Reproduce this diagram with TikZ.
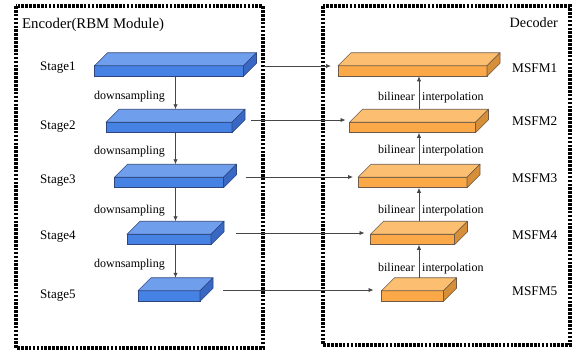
\documentclass[tikz,border=0pt]{standalone}
\usepackage{fontspec}
\setmainfont{Liberation Serif}
\usetikzlibrary{arrows.meta}
\definecolor{bfront}{RGB}{70,130,228}
\definecolor{btop}{RGB}{110,158,236}
\definecolor{bside}{RGB}{56,104,196}
\definecolor{bline}{RGB}{45,70,125}
\definecolor{ofront}{RGB}{250,168,72}
\definecolor{otop}{RGB}{252,190,112}
\definecolor{oside}{RGB}{214,142,56}
\definecolor{oline}{RGB}{110,90,70}
\definecolor{arrgray}{RGB}{70,70,70}
\newcommand\slabfaces[4]{%
  \draw[fill=#2, draw=#4, line width=0.6pt, line join=round] (#1.north west) -- ++(13,-13) -- ([shift={(13,-13)}]#1.north east) -- (#1.north east) -- cycle;
  \draw[fill=#3, draw=#4, line width=0.6pt, line join=round] (#1.north east) -- ++(13,-13) -- ([shift={(13,-13)}]#1.south east) -- (#1.south east) -- cycle;
}
\tikzset{
  frame/.style={line width=3.2pt, dash pattern=on 2.6pt off 1.3pt},
  slab/.style={draw, line width=0.6pt, minimum height=10.5pt, inner sep=0pt, outer sep=0pt},
  enc/.style={slab, fill=bfront, draw=bline},
  dec/.style={slab, fill=ofront, draw=oline},
  arr/.style={draw=arrgray, line width=0.9pt, -{Latex[length=5pt,width=4.5pt]}},
  stagelbl/.style={font=\fontsize{13}{15}\selectfont, anchor=base west, inner sep=0pt},
  msfmlbl/.style={font=\fontsize{13.3}{15}\selectfont, anchor=base west, inner sep=0pt},
  smalllbl/.style={font=\fontsize{12}{14}\selectfont, inner sep=0pt},
  titlelbl/.style={font=\fontsize{14.8}{17}\selectfont, inner sep=0pt},
}
\begin{document}
\begin{tikzpicture}[x=1pt,y=-1pt]
\useasboundingbox (0,0) rectangle (579,354);
% frames
\draw[frame] (16,6) rectangle (263,348);
\draw[frame] (323,6) rectangle (570,345);
\node[titlelbl, anchor=base west] (enct) at (22,28.5) {Encoder(RBM Module)};
\node[titlelbl, anchor=base east, font=\fontsize{14.2}{17}\selectfont] (dect) at (558,27.5) {Decoder};
% encoder slabs
\node[enc, minimum width=149pt] (s1) at (169,71) {};
\node[enc, minimum width=126pt] (s2) at (169,127.5) {};
\node[enc, minimum width=109pt] (s3) at (169,182.5) {};
\node[enc, minimum width=84pt] (s4) at (169,239.5) {};
\node[enc, minimum width=62pt] (s5) at (169,296) {};
\foreach \n in {s1,s2,s3,s4,s5} {\slabfaces{\n}{btop}{bside}{bline}}
% decoder slabs
\node[dec, minimum width=149pt] (m1) at (412.5,71) {};
\node[dec, minimum width=126pt] (m2) at (412.5,127.5) {};
\node[dec, minimum width=109pt] (m3) at (412.5,182.5) {};
\node[dec, minimum width=84pt] (m4) at (412.5,239.5) {};
\node[dec, minimum width=62pt] (m5) at (412.5,296) {};
\foreach \n in {m1,m2,m3,m4,m5} {\slabfaces{\n}{otop}{oside}{oline}}
% labels
\node[stagelbl] (l1) at (40,70) {Stage1};
\node[stagelbl] (l2) at (40,129) {Stage2};
\node[stagelbl] (l3) at (40,183) {Stage3};
\node[stagelbl] (l4) at (40,239) {Stage4};
\node[stagelbl] (l5) at (40,298) {Stage5};
\node[msfmlbl] (r1) at (512,72.7) {MSFM1};
\node[msfmlbl] (r2) at (512,125) {MSFM2};
\node[msfmlbl] (r3) at (512,182) {MSFM3};
\node[msfmlbl] (r4) at (512,239) {MSFM4};
\node[msfmlbl] (r5) at (512,295) {MSFM5};
\foreach \y/\nm in {99/d1,154/d2,213/d3,267/d4} {
  \node[smalllbl, anchor=base east] (\nm) at (165,\y) {downsampling};
}
\foreach \y/\nm in {100.5/b1,153/b2,213/b3,271/b4} {
  \node[smalllbl, anchor=base east] (\nm a) at (415,\y) {bilinear};
  \node[smalllbl, anchor=base west] (\nm b) at (422,\y) {interpolation};
}
% vertical arrows
\draw[arr] ([xshift=6.5pt]s1.south) -- ([xshift=6.5pt,yshift=13pt]s2.north);
\draw[arr] ([xshift=6.5pt]s2.south) -- ([xshift=6.5pt,yshift=13pt]s3.north);
\draw[arr] ([xshift=6.5pt]s3.south) -- ([xshift=6.5pt,yshift=13pt]s4.north);
\draw[arr] ([xshift=6.5pt]s4.south) -- ([xshift=6.5pt,yshift=13pt]s5.north);
\draw[arr] ([xshift=6.5pt,yshift=13pt]m2.north) -- ([xshift=6.5pt]m1.south);
\draw[arr] ([xshift=6.5pt,yshift=13pt]m3.north) -- ([xshift=6.5pt]m2.south);
\draw[arr] ([xshift=6.5pt,yshift=13pt]m4.north) -- ([xshift=6.5pt]m3.south);
\draw[arr] ([xshift=6.5pt,yshift=13pt]m5.north) -- ([xshift=6.5pt]m4.south);
% horizontal arrows
\draw[arr] ([xshift=20pt,yshift=5pt]s1.east) -- ([xshift=-7pt,yshift=5pt]m1.west);
\draw[arr] ([xshift=19pt,yshift=7.5pt]s2.east) -- ([xshift=-4pt,yshift=7.5pt]m2.west);
\draw[arr] ([xshift=22pt,yshift=5.5pt]s3.east) -- ([xshift=-5pt,yshift=5.5pt]m3.west);
\draw[arr] ([xshift=25pt,yshift=6.5pt]s4.east) -- ([xshift=-6pt,yshift=6.5pt]m4.west);
\draw[arr] ([xshift=23pt,yshift=6pt]s5.east) -- ([xshift=-8pt,yshift=6pt]m5.west);
\end{tikzpicture}
\end{document}
